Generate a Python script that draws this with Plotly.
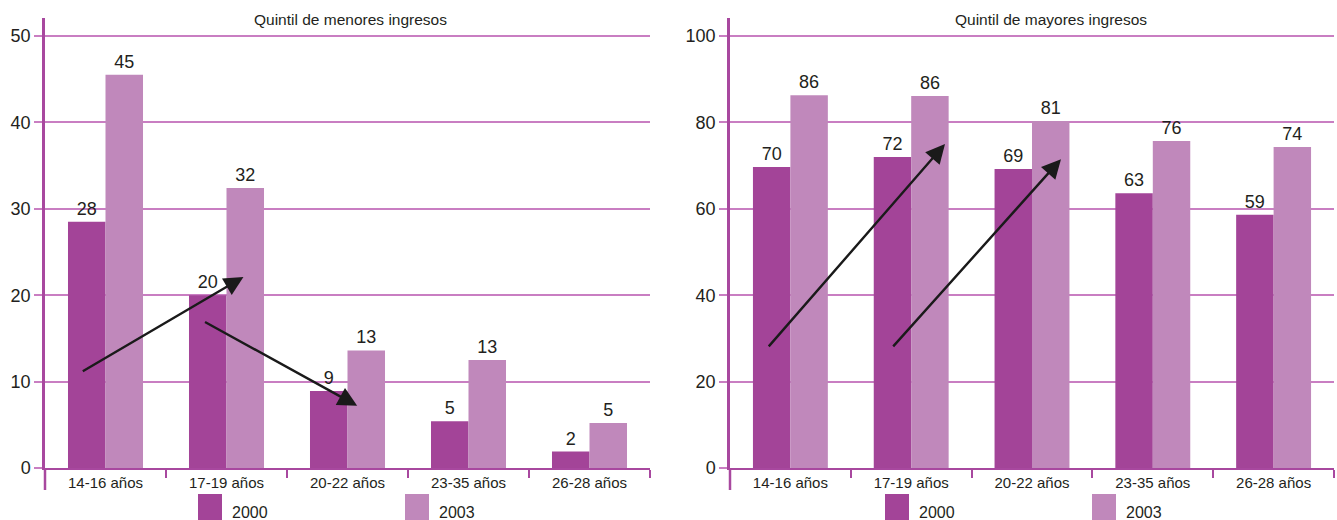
import plotly.graph_objects as go

categories = ["14-16 años", "17-19 años", "20-22 años", "23-35 años", "26-28 años"]

low_2000 = [28.5, 20.0, 8.9, 5.4, 1.9]
low_2003 = [45.5, 32.4, 13.6, 12.5, 5.2]
low_2000_labels = ["28", "20", "9", "5", "2"]
low_2003_labels = ["45", "32", "13", "13", "5"]

high_2000 = [69.7, 72.0, 69.2, 63.6, 58.6]
high_2003 = [86.3, 86.1, 80.3, 75.7, 74.3]
high_2000_labels = ["70", "72", "69", "63", "59"]
high_2003_labels = ["86", "86", "81", "76", "74"]

series_names = ["2000", "2003"]
titles = ["Quintil de menores ingresos", "Quintil de mayores ingresos"]

C_DARK = "#A34498"
C_LIGHT = "#C088BB"
C_GRID = "#C97EC2"
C_AXIS = "#A8489F"
TXT = "#231F20"
FONT = "Liberation Sans"

W, H = 1337, 520
fig = go.Figure()

panels = [
    (low_2000, low_2003, low_2000_labels, low_2003_labels, "x", "y"),
    (high_2000, high_2003, high_2000_labels, high_2003_labels, "x2", "y2"),
]
for v0, v1, l0, l1, xa, ya in panels:
    for vals, labs, col, name in [(v0, l0, C_DARK, series_names[0]), (v1, l1, C_LIGHT, series_names[1])]:
        fig.add_trace(go.Bar(
            x=categories, y=vals, text=labs, name=name, marker_color=col,
            marker_line_width=0, textposition="outside", cliponaxis=False,
            textfont=dict(family=FONT, size=18, color=TXT),
            xaxis=xa, yaxis=ya, showlegend=False,
        ))

xdoms = [[45 / W, 650 / W], [730 / W, 1334 / W]]
ydom = [1 - 468 / H, 1 - 18 / H]
yranges = [[0, 52.08], [0, 104.17]]
ydticks = [10, 20]

common_x = dict(
    showline=True, linecolor=C_AXIS, linewidth=2, ticks="outside", tickson="boundaries",
    ticklen=8, tickwidth=1.5, tickcolor=C_AXIS, showgrid=False, automargin=False,
    tickfont=dict(family=FONT, size=15, color=TXT), fixedrange=True,
)
common_y = dict(
    showline=True, linecolor=C_AXIS, linewidth=2.5, ticks="outside", ticklen=8,
    tickwidth=1.5, tickcolor=C_GRID, showgrid=True, gridcolor=C_GRID, gridwidth=1.5,
    zeroline=False, automargin=False, tickfont=dict(family=FONT, size=18, color=TXT),
    fixedrange=True,
)

fig.update_layout(
    xaxis=dict(domain=xdoms[0], anchor="y", **common_x),
    yaxis=dict(domain=ydom, anchor="x", range=yranges[0], dtick=ydticks[0], **common_y),
    xaxis2=dict(domain=xdoms[1], anchor="y2", **common_x),
    yaxis2=dict(domain=ydom, anchor="x2", range=yranges[1], dtick=ydticks[1], **common_y),
    barmode="group", bargap=0.38, bargroupgap=0,
    width=W, height=H, margin=dict(l=0, r=0, t=0, b=0, pad=0, autoexpand=False),
    plot_bgcolor="white", paper_bgcolor="white",
    font=dict(family=FONT, color=TXT),
)

# panel titles
title_x = [351, 1051]
for i, t in enumerate(titles):
    fig.add_annotation(
        text=t, xref="paper", yref="paper",
        x=title_x[i] / W, y=1 - 20 / H, showarrow=False, xanchor="center", yanchor="middle",
        font=dict(family=FONT, size=15.5, color=TXT),
    )
    # y-axis line extension below the x axis
    fig.add_shape(
        type="line", xref=f"x{'' if i == 0 else 2} domain", yref="paper",
        x0=0, x1=0, y0=1 - 468 / H, y1=1 - 490 / H,
        line=dict(color=C_AXIS, width=2.5),
    )

# legends (manual swatches)
legend_x = [[198, 405], [885, 1092]]
for px in legend_x:
    for j, lx in enumerate(px):
        fig.add_shape(
            type="rect", xref="paper", yref="paper",
            x0=lx / W, x1=(lx + 24) / W, y0=1 - 494 / H, y1=1 - 520 / H,
            fillcolor=[C_DARK, C_LIGHT][j], line_width=0,
        )
        fig.add_annotation(
            text=series_names[j], xref="paper", yref="paper",
            x=(lx + 32) / W, y=1 - 512 / H, showarrow=False,
            xanchor="left", yanchor="middle",
            font=dict(family=FONT, size=16, color=TXT),
        )

# trend arrows (tail -> head, in axis units)
arrows = [
    ("x", "y", (-0.20, 11.1), (1.14, 22.1)),
    ("x", "y", (0.81, 17.0), (2.08, 7.2)),
    ("x2", "y2", (-0.19, 27.8), (1.28, 75.0)),
    ("x2", "y2", (0.84, 27.8), (2.24, 71.5)),
]
for xa, ya, tail, head in arrows:
    fig.add_annotation(
        x=head[0], y=head[1], ax=tail[0], ay=tail[1],
        xref=xa, yref=ya, axref=xa, ayref=ya, text="",
        showarrow=True, arrowhead=2, arrowsize=1.6, arrowwidth=2.4, arrowcolor="#1A1A1A",
    )

fig.write_html("out.html", config={"displayModeBar": False},
               post_script="document.body.style.margin='0';")
